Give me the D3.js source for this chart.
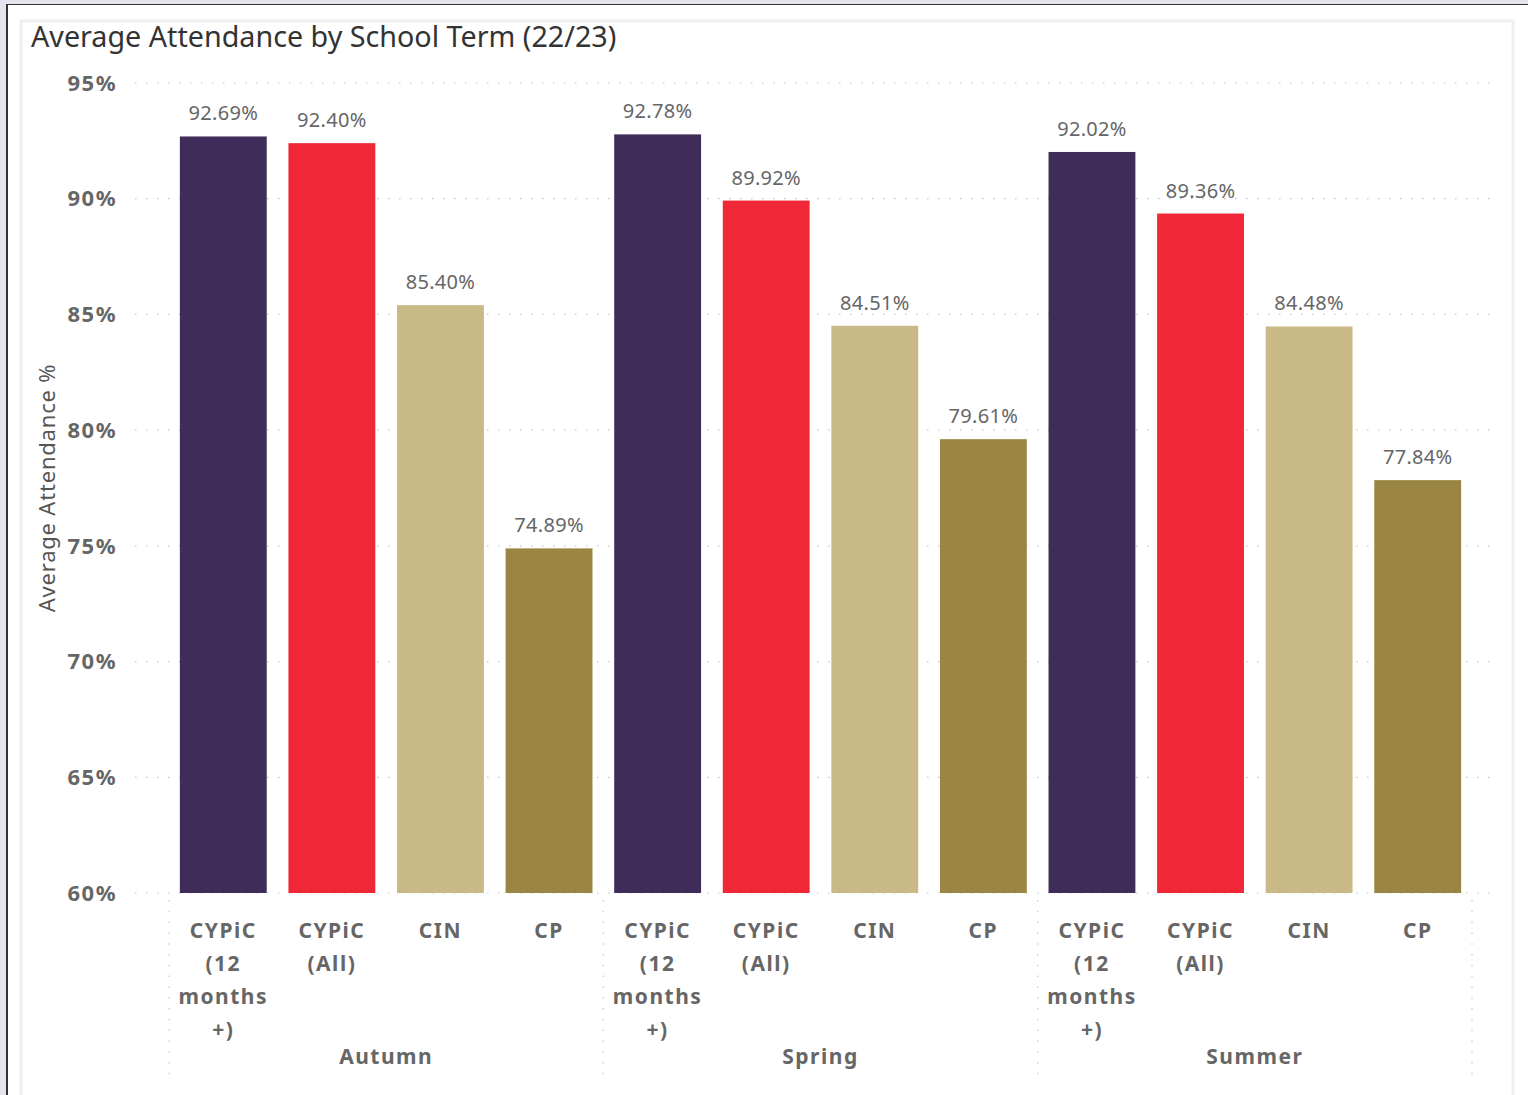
<!DOCTYPE html>
<html>
<head>
<meta charset="utf-8">
<script src="https://cdn.jsdelivr.net/npm/d3@7"></script>
<style>
  html, body { margin: 0; padding: 0; background: #e6e2ee; }
  svg { display: block; }
</style>
</head>
<body>
<svg id="chart" width="1528" height="1095"></svg>
<script>
// data
var terms = ["Autumn", "Spring", "Summer"];
var groups = ["CYPiC (12 months +)", "CYPiC (All)", "CIN", "CP"];
var groupLines = [["CYPiC", "(12", "months", "+)"], ["CYPiC", "(All)"], ["CIN"], ["CP"]];
var autumnValues = [92.69, 92.40, 85.40, 74.89];
var springValues = [92.78, 89.92, 84.51, 79.61];
var summerValues = [92.02, 89.36, 84.48, 77.84];
var yTicks = [60, 65, 70, 75, 80, 85, 90, 95];
var colors = ["#3f2c58", "#f02737", "#c8b987", "#9a8642"];

var values = [autumnValues, springValues, summerValues];

var svg = d3.select("#chart");

// frame
svg.append("rect").attr("x", 7).attr("y", 5).attr("width", 1521).attr("height", 1090).attr("fill", "#ffffff");
svg.append("line").attr("x1", 7).attr("x2", 1528).attr("y1", 4.5).attr("y2", 4.5).attr("stroke", "#333").attr("stroke-width", 1);
svg.append("line").attr("x1", 7).attr("x2", 7).attr("y1", 4).attr("y2", 1095).attr("stroke", "#333").attr("stroke-width", 2);
svg.append("rect").attr("x", 21).attr("y", 21).attr("width", 1492).attr("height", 1080)
    .attr("fill", "#ffffff").attr("stroke", "#f0f0f0").attr("stroke-width", 3);

var font = "'Noto Sans', 'DejaVu Sans', sans-serif";

svg.append("text")
    .attr("x", 31).attr("y", 47)
    .attr("font-family", font)
    .attr("font-size", 28.7)
    .attr("fill", "#333")
    .text("Average Attendance by School Term (22/23)");

var y = d3.scaleLinear().domain([60, 95]).range([893, 83]);
var x0 = d3.scaleBand().domain(terms).range([169, 1472]);
var x1 = d3.scaleBand().domain(groups).range([0, x0.bandwidth()]).padding(0.2).paddingOuter(0.1);

// gridlines
svg.append("g").selectAll("line")
    .data(yTicks)
    .enter()
    .append("line")
    .attr("x1", 135).attr("x2", 1498)
    .attr("y1", function (d) { return y(d); })
    .attr("y2", function (d) { return y(d); })
    .attr("stroke", "#c8c8c8")
    .attr("stroke-width", 1.2)
    .attr("stroke-dasharray", "1.5,9.5");

// y tick labels
svg.append("g").selectAll("text")
    .data(yTicks)
    .enter()
    .append("text")
    .attr("x", 117)
    .attr("y", function (d) { return y(d); })
    .attr("dy", "0.35em")
    .attr("text-anchor", "end")
    .attr("font-family", font)
    .attr("font-weight", "bold")
    .attr("font-size", 22)
    .attr("letter-spacing", 1.5)
    .attr("fill", "#666")
    .text(function (d) { return d + "%"; });

// y axis title
svg.append("text")
    .attr("transform", "translate(55,488) rotate(-90)")
    .attr("text-anchor", "middle")
    .attr("font-family", font)
    .attr("font-size", 22)
    .attr("letter-spacing", 0.8)
    .attr("fill", "#555")
    .text("Average Attendance %");

// group separators
var seps = terms.map(function (t) { return x0(t); }).concat([x0.range()[1]]);
svg.append("g").selectAll("line")
    .data(seps)
    .enter()
    .append("line")
    .attr("x1", function (d) { return d; })
    .attr("x2", function (d) { return d; })
    .attr("y1", 900).attr("y2", 1080)
    .attr("stroke", "#c8c8c8")
    .attr("stroke-width", 1.2)
    .attr("stroke-dasharray", "1.5,9.3");

// bars
var termG = svg.append("g").selectAll("g")
    .data(terms)
    .enter()
    .append("g")
    .attr("transform", function (d) { return "translate(" + x0(d) + ",0)"; });

termG.selectAll("rect")
    .data(function (d, i) { return values[i].map(function (v, j) { return { g: groups[j], v: v, j: j }; }); })
    .enter()
    .append("rect")
    .attr("x", function (d) { return x1(d.g); })
    .attr("y", function (d) { return y(d.v); })
    .attr("width", x1.bandwidth())
    .attr("height", function (d) { return y(60) - y(d.v); })
    .attr("fill", function (d) { return colors[d.j]; });

termG.selectAll("text.val")
    .data(function (d, i) { return values[i].map(function (v, j) { return { g: groups[j], v: v }; }); })
    .enter()
    .append("text")
    .attr("class", "val")
    .attr("x", function (d) { return x1(d.g) + x1.bandwidth() / 2; })
    .attr("y", function (d) { return y(d.v) - 16; })
    .attr("text-anchor", "middle")
    .attr("font-family", font)
    .attr("font-size", 20)
    .attr("letter-spacing", 0.3)
    .attr("fill", "#666")
    .text(function (d) { return d.v.toFixed(2) + "%"; });

// category labels
termG.selectAll("text.cat")
    .data(groups)
    .enter()
    .append("text")
    .attr("class", "cat")
    .attr("text-anchor", "middle")
    .attr("font-family", font)
    .attr("font-weight", "bold")
    .attr("font-size", 21)
    .attr("letter-spacing", 1.5)
    .attr("fill", "#666")
    .each(function (d, i) {
        var t = d3.select(this);
        groupLines[i].forEach(function (line, k) {
            t.append("tspan")
                .attr("x", x1(d) + x1.bandwidth() / 2)
                .attr("y", 938 + k * 33)
                .text(line);
        });
    });

// term labels
termG.append("text")
    .attr("x", x0.bandwidth() / 2)
    .attr("y", 1064)
    .attr("text-anchor", "middle")
    .attr("font-family", font)
    .attr("font-weight", "bold")
    .attr("font-size", 21)
    .attr("letter-spacing", 1.5)
    .attr("fill", "#666")
    .text(function (d) { return d; });
</script>
</body>
</html>
